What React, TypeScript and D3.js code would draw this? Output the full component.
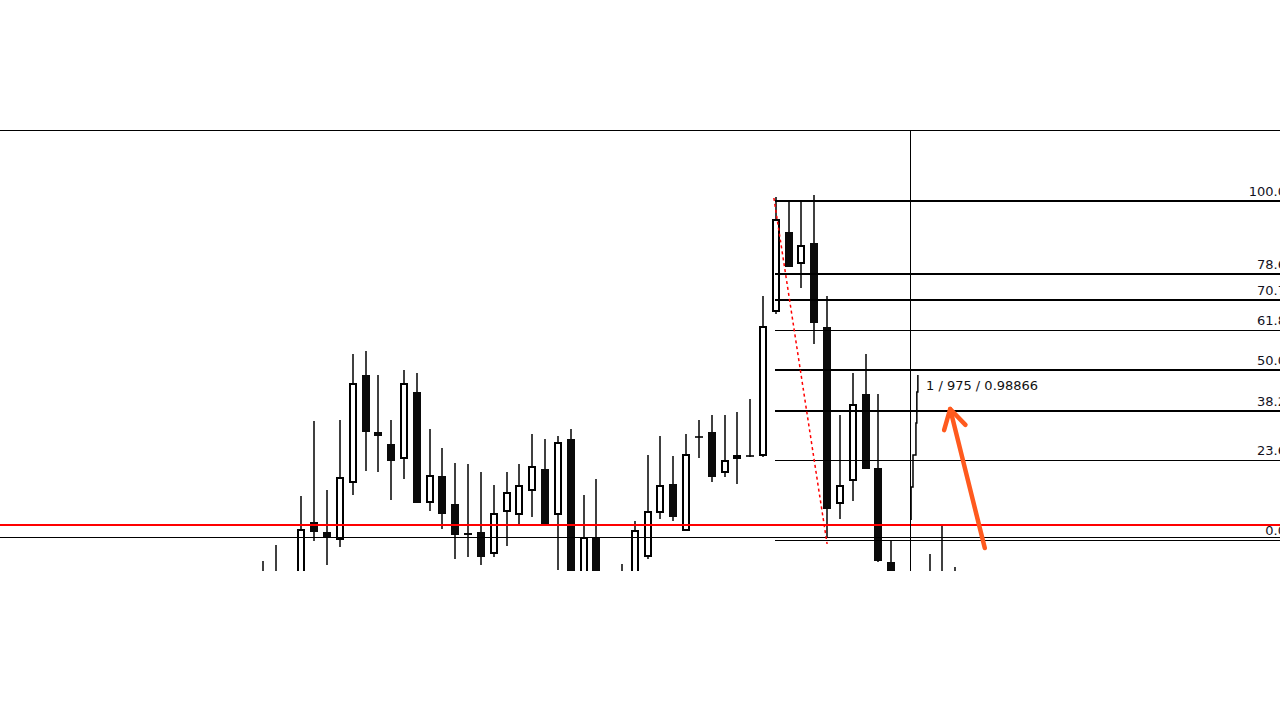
import React from 'react';
import * as d3 from 'd3';

// OHLC per bar (index 0..54); null = bar drawn separately (live bar)
const opens: (number | null)[] = [
  0.97850, 0.97800, 0.97800, 0.97750, 0.98165, 0.98115, 0.98075, 0.98360, 0.98900, 0.98615,
  0.98555, 0.98480, 0.98815, 0.98260, 0.98395, 0.98255, 0.98110, 0.98115, 0.98005, 0.98215,
  0.98200, 0.98320, 0.98430, 0.98200, 0.98580, 0.97775, 0.98090, 0.97800, 0.97760, 0.97825,
  0.97990, 0.98210, 0.98355, 0.98120, 0.98590, 0.98615, 0.98410, 0.98480, 0.98495, 0.98495,
  0.99215, 0.99615, 0.99455, 0.99560, 0.99140, 0.98255, 0.98370, 0.98805, 0.98435, 0.97965,
  0.97780, null, 0.97800, 0.97780, 0.97800,
];
const highs: (number | null)[] = [
  0.97970, 0.98050, 0.97880, 0.98295, 0.98670, 0.98325, 0.98675, 0.99005, 0.99020, 0.98900,
  0.98675, 0.98925, 0.98910, 0.98630, 0.98535, 0.98460, 0.98455, 0.98415, 0.98350, 0.98415,
  0.98455, 0.98605, 0.98580, 0.98595, 0.98630, 0.98300, 0.98380, 0.97880, 0.97955, 0.98170,
  0.98500, 0.98595, 0.98495, 0.98605, 0.98675, 0.98700, 0.98700, 0.98715, 0.98780, 0.99295,
  0.99790, 0.99770, 0.99770, 0.99800, 0.99295, 0.98700, 0.98910, 0.99005, 0.98805, 0.98070,
  0.97890, null, 0.98005, 0.98155, 0.97940,
];
const lows: (number | null)[] = [
  0.97725, 0.97700, 0.97650, 0.97700, 0.98070, 0.97950, 0.98040, 0.98300, 0.98420, 0.98415,
  0.98275, 0.98380, 0.98260, 0.98220, 0.98130, 0.97980, 0.97990, 0.97950, 0.97990, 0.98045,
  0.98155, 0.98190, 0.98155, 0.97925, 0.97725, 0.97725, 0.97725, 0.97680, 0.97700, 0.97775,
  0.97980, 0.98180, 0.98170, 0.98120, 0.98485, 0.98365, 0.98390, 0.98355, 0.98490, 0.98490,
  0.99205, 0.99440, 0.99335, 0.99055, 0.98090, 0.98180, 0.98270, 0.98430, 0.97965, 0.97725,
  0.97700, null, 0.97700, 0.97700, 0.97700,
];
const closes: (number | null)[] = [
  0.97775, 0.97850, 0.97700, 0.98130, 0.98115, 0.98090, 0.98390, 0.98860, 0.98615, 0.98595,
  0.98470, 0.98860, 0.98260, 0.98400, 0.98205, 0.98100, 0.98100, 0.97990, 0.98210, 0.98315,
  0.98350, 0.98445, 0.98155, 0.98565, 0.97775, 0.98090, 0.97775, 0.97750, 0.97820, 0.98125,
  0.98220, 0.98350, 0.98190, 0.98505, 0.98585, 0.98390, 0.98475, 0.98500, 0.98495, 0.99145,
  0.99680, 0.99440, 0.99550, 0.99160, 0.98230, 0.98350, 0.98755, 0.98430, 0.97970, 0.97775,
  0.97820, null, 0.97760, 0.97820, 0.97850,
];

// live (forming) bar drawn as tick steps
const liveTickIndex = [50.55, 50.7, 50.93, 51.0, 51.08];
const liveTickPrices = [0.98175, 0.98340, 0.98500, 0.98660, 0.98815, 0.98900];

// Fibonacci retracement
const fibLevels = [0, 23.6, 38.2, 50, 61.8, 70.7, 78.6, 100];
const fibLabels = ['0.0', '23.6', '38.2', '50.0', '61.8', '70.7', '78.6', '100.0'];
const fibHigh = 0.99770;
const fibLow = 0.98075;
const fibStartIndex = 40;
const trendIndex = [39.85, 44];
const trendPrices = [0.99785, 0.98055];

// horizontal lines
const redLinePrice = 0.98150;
const blackLinePrice = 0.98090;

// cursor
const cursorIndex = 50.47;
const cursorLabel = '1 / 975 / 0.98866';
const cursorPrice = 0.98866;

// annotation arrow (tail -> tip)
const arrowIndex = [56.3, 53.6];
const arrowPrices = [0.98035, 0.98730];

const W = 1280;
const H = 720;
const TOP = 130;
const BOTTOM = 571;

export default function App() {
  const x = d3.scaleLinear().domain([0, 54]).range([263, 955.3]);
  const y = d3.scaleLinear().domain([0.97920, 1.00125]).range([BOTTOM, TOP]);

  const thick = new Set([100, 78.6, 70.7, 50, 38.2]);

  const candles = opens.map((o, i) => {
    const h = highs[i], l = lows[i], c = closes[i];
    if (o == null || h == null || l == null || c == null) return null;
    const cx = Math.round(x(i));
    const yO = y(o), yC = y(c), yH = y(h), yL = y(l);
    const top = Math.min(yO, yC), bot = Math.max(yO, yC);
    const bull = c > o;
    let body;
    if (bot - top < 1.5) {
      body = <line x1={cx - 4} x2={cx + 4} y1={top} y2={top} stroke="#000" strokeWidth={1.6} />;
    } else if (bull) {
      body = (
        <rect x={cx - 3} y={top + 1} width={6} height={Math.max(0, bot - top - 2)}
          fill="#fff" stroke="#000" strokeWidth={2} />
      );
    } else {
      body = <rect x={cx - 4} y={top} width={8} height={Math.max(2, bot - top)} fill="#0a0a0a" />;
    }
    return (
      <g key={i}>
        <line x1={cx} x2={cx} y1={yH} y2={yL} stroke="#000" strokeWidth={1.5} />
        {body}
      </g>
    );
  });

  // live tick path
  const lp = d3.path();
  liveTickIndex.forEach((idx, j) => {
    const xx = x(idx);
    if (j === 0) lp.moveTo(xx, y(liveTickPrices[0]));
    else lp.lineTo(xx, y(liveTickPrices[j]));
    lp.lineTo(xx, y(liveTickPrices[j + 1]));
  });

  const fibY = (lv: number) => Math.round(y(fibLow + (fibHigh - fibLow) * lv / 100));
  const fibX0 = Math.round(x(fibStartIndex)) - 1;

  // arrow geometry
  const tx = x(arrowIndex[0]), ty = y(arrowPrices[0]);
  const hx = x(arrowIndex[1]), hy = y(arrowPrices[1]);
  const ang = Math.atan2(ty - hy, tx - hx);
  const bl = 22, ba = Math.PI / 6;
  const b1 = [hx + bl * Math.cos(ang + ba), hy + bl * Math.sin(ang + ba)];
  const b2 = [hx + bl * Math.cos(ang - ba), hy + bl * Math.sin(ang - ba)];

  const cursorX = Math.round(x(cursorIndex)) + 0.5;
  const redY = Math.round(y(redLinePrice));
  const blackY = Math.round(y(blackLinePrice)) + 0.5;

  return (
    <svg width={W} height={H} style={{ position: 'absolute', left: 0, top: 0, background: '#fff' }}
      fontFamily="'DejaVu Sans', Verdana, sans-serif">
      <defs>
        <clipPath id="plot">
          <rect x={0} y={TOP} width={W} height={BOTTOM - TOP} />
        </clipPath>
      </defs>
      <rect x={0} y={0} width={W} height={H} fill="#fff" />
      <line x1={0} x2={W} y1={TOP + 0.5} y2={TOP + 0.5} stroke="#000" strokeWidth={1} />
      <g clipPath="url(#plot)">
        {candles}
        <path d={lp.toString()} fill="none" stroke="#000" strokeWidth={1.5} />
        {fibLevels.map((lv, k) => {
          const yy = fibY(lv);
          const t = thick.has(lv);
          return (
            <g key={lv}>
              <line x1={fibX0} x2={W} y1={t ? yy : yy + 0.5} y2={t ? yy : yy + 0.5}
                stroke="#000" strokeWidth={t ? 2 : 1} />
              <text x={1286} y={yy - 5} textAnchor="end" fontSize={13} fill="#12121e">{fibLabels[k]}</text>
            </g>
          );
        })}
        <line x1={0} x2={W} y1={redY} y2={redY} stroke="#ff0000" strokeWidth={2} />
        <line x1={0} x2={W} y1={blackY} y2={blackY} stroke="#000" strokeWidth={1} />
        <line x1={x(trendIndex[0])} y1={y(trendPrices[0])} x2={x(trendIndex[1])} y2={y(trendPrices[1])}
          stroke="#ff0000" strokeWidth={1.5} strokeDasharray="3,3" />
        <line x1={cursorX} x2={cursorX} y1={TOP} y2={BOTTOM} stroke="#000" strokeWidth={1} />
        <text x={cursorX + 15.5} y={y(cursorPrice) + 8} fontSize={13} fill="#111">{cursorLabel}</text>
      </g>
      <g stroke="#ff5a1e" strokeWidth={4.5} strokeLinecap="round" strokeLinejoin="round" fill="none">
        <line x1={tx} y1={ty} x2={hx} y2={hy} />
        <polyline points={`${b1[0]},${b1[1]} ${hx},${hy} ${b2[0]},${b2[1]}`} />
      </g>
    </svg>
  );
}
